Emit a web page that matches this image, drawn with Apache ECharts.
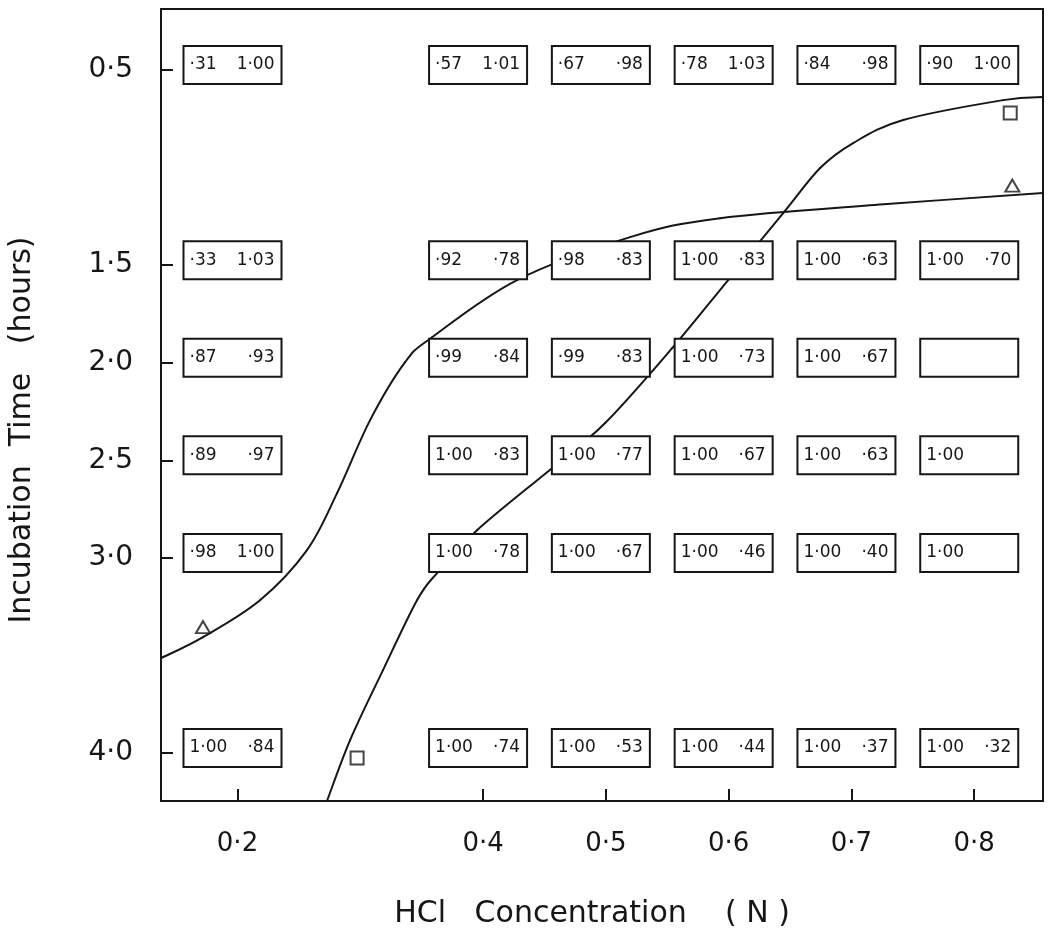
<!DOCTYPE html>
<html>
<head>
<meta charset="utf-8">
<title>HCl concentration vs incubation time</title>
<script src="https://cdn.jsdelivr.net/npm/echarts@6/dist/echarts.min.js"></script>
<style>
  html, body { margin: 0; padding: 0; background: #fff; }
  #chart { width: 1049px; height: 937px; }
</style>
</head>
<body>
<div id="chart"></div>
<script>
// HCl concentrations (N) of the table columns
const concentrations = [0.2, 0.4, 0.5, 0.6, 0.7, 0.8];
// Incubation times (hours) of the table rows
const times = [0.5, 1.5, 2.0, 2.5, 3.0, 4.0];

// First ratio of each cell, rows by time, columns by concentration
const firstValues = [
  [0.31, 0.57, 0.67, 0.78, 0.84, 0.90],
  [0.33, 0.92, 0.98, 1.00, 1.00, 1.00],
  [0.87, 0.99, 0.99, 1.00, 1.00, null],
  [0.89, 1.00, 1.00, 1.00, 1.00, 1.00],
  [0.98, 1.00, 1.00, 1.00, 1.00, 1.00],
  [1.00, 1.00, 1.00, 1.00, 1.00, 1.00]
];
// Second ratio of each cell
const secondValues = [
  [1.00, 1.01, 0.98, 1.03, 0.98, 1.00],
  [1.03, 0.78, 0.83, 0.83, 0.63, 0.70],
  [0.93, 0.84, 0.83, 0.73, 0.67, null],
  [0.97, 0.83, 0.77, 0.67, 0.63, null],
  [1.00, 0.78, 0.67, 0.46, 0.40, null],
  [0.84, 0.74, 0.53, 0.44, 0.37, 0.32]
];

// Boundary curves [concentration, hours]
const triangleCurve = [
  [0.1377, 3.514], [0.1719, 3.406], [0.2183, 3.217], [0.2566, 2.960],
  [0.2811, 2.668], [0.3080, 2.294], [0.3365, 1.997], [0.3585, 1.869],
  [0.4277, 1.576], [0.5198, 1.356], [0.5931, 1.259], [0.7291, 1.187],
  [0.8560, 1.130]
];
const squareCurve = [
  [0.2729, 4.246], [0.2917, 3.934], [0.3185, 3.575], [0.3462, 3.217],
  [0.3625, 3.078], [0.3951, 2.858], [0.4570, 2.535], [0.4994, 2.309],
  [0.5540, 1.925], [0.5996, 1.576], [0.6444, 1.233], [0.6745, 1.002],
  [0.7014, 0.874], [0.7422, 0.756], [0.8236, 0.654], [0.8560, 0.638]
];
// Curve markers
const trianglePoints = [[0.1719, 3.355], [0.8310, 1.092]];
const squarePoints = [[0.2974, 4.026], [0.8293, 0.720]];

// Axis ticks and labels
const xTicks = [0.2, 0.4, 0.5, 0.6, 0.7, 0.8];
const yTicks = [0.5, 1.5, 2.0, 2.5, 3.0, 4.0];

const FONT = "'DejaVu Sans', sans-serif";
const INK = '#161616';

function fmtAxis(v) { return v.toFixed(1).replace('.', '·'); }
function fmtRatio(v) {
  if (v == null) return '';
  const s = v.toFixed(2);
  return s.startsWith('0') ? s.slice(1).replace('.', '·') : s.replace('.', '·');
}

const cells = [];
times.forEach((t, r) => {
  concentrations.forEach((c, k) => {
    cells.push([c, t, r, k]);
  });
});

// Smooth Catmull-Rom curve through the points, drawn as cubic segments
function curveSeries(points) {
  return {
    type: 'custom',
    data: points,
    silent: true,
    clip: true,
    z: 3,
    renderItem: function (params, api) {
      if (params.dataIndex !== 0) return null;
      const p = points.map(d => api.coord(d));
      const segs = [];
      for (let i = 0; i < p.length - 1; i++) {
        const p0 = p[i - 1] || p[i], p1 = p[i], p2 = p[i + 1], p3 = p[i + 2] || p[i + 1];
        segs.push({
          type: 'bezierCurve',
          shape: {
            x1: p1[0], y1: p1[1], x2: p2[0], y2: p2[1],
            cpx1: p1[0] + (p2[0] - p0[0]) / 6, cpy1: p1[1] + (p2[1] - p0[1]) / 6,
            cpx2: p2[0] - (p3[0] - p1[0]) / 6, cpy2: p2[1] - (p3[1] - p1[1]) / 6
          },
          style: { stroke: INK, lineWidth: 2, fill: null, lineCap: 'round' }
        });
      }
      return { type: 'group', children: segs };
    }
  };
}

const chart = echarts.init(document.getElementById('chart'));
chart.setOption({
  backgroundColor: '#fff',
  animation: false,
  grid: {
    left: 161, top: 9, right: 6, bottom: 136,
    show: true, borderColor: INK, borderWidth: 2, backgroundColor: 'transparent'
  },
  graphic: [
    {
      type: 'text', x: 592, y: 914,
      style: { text: 'HCl   Concentration    ( N )', align: 'center', verticalAlign: 'middle',
        font: '30px ' + FONT, fill: INK }
    },
    {
      type: 'text', x: 22, y: 430, rotation: Math.PI / 2,
      style: { text: 'Incubation  Time   (hours)', align: 'center', verticalAlign: 'middle',
        font: '30px ' + FONT, fill: INK }
    }
  ],
  xAxis: {
    type: 'value', min: 0.1377, max: 0.856,
    axisLine: { show: false },
    splitLine: { show: false },
    axisTick: { show: true, inside: true, length: 12, customValues: xTicks,
      lineStyle: { color: INK, width: 2 } },
    axisLabel: { customValues: xTicks, formatter: fmtAxis, margin: 30,
      fontFamily: FONT, fontSize: 26, color: INK }
  },
  yAxis: {
    type: 'value', inverse: true, min: 0.187, max: 4.246,
    axisLine: { show: false },
    splitLine: { show: false },
    axisTick: { show: true, inside: true, length: 12, customValues: yTicks,
      lineStyle: { color: INK, width: 2 } },
    axisLabel: { customValues: yTicks, formatter: fmtAxis, margin: 28,
      fontFamily: FONT, fontSize: 28, color: INK }
  },
  series: [
    {
      type: 'custom',
      name: 'cells',
      data: cells,
      silent: true,
      z: 5,
      renderItem: function (params, api) {
        const c = api.value(0), t = api.value(1);
        const r = api.value(2), k = api.value(3);
        const p = api.coord([c, t]);
        const w = 98, h = 38;
        const x0 = p[0] - 5 - w / 2, y0 = p[1] - 5 - h / 2;
        const children = [{
          type: 'rect',
          shape: { x: x0, y: y0, width: w, height: h },
          style: { fill: '#fff', stroke: INK, lineWidth: 2 }
        }];
        const a = firstValues[r][k], b = secondValues[r][k];
        if (a != null) {
          children.push({
            type: 'text',
            style: { text: fmtRatio(a), x: x0 + 6, y: y0 + h / 2,
              align: 'left', verticalAlign: 'middle',
              font: '17px ' + FONT, fill: INK }
          });
        }
        if (b != null) {
          children.push({
            type: 'text',
            style: { text: fmtRatio(b), x: x0 + w - 7, y: y0 + h / 2,
              align: 'right', verticalAlign: 'middle',
              font: '17px ' + FONT, fill: INK }
          });
        }
        return { type: 'group', children: children };
      }
    },
    curveSeries(triangleCurve),
    curveSeries(squareCurve),
    {
      type: 'scatter', data: trianglePoints, symbol: 'emptyTriangle', symbolSize: [14, 12],
      itemStyle: { color: INK, borderColor: INK, borderWidth: 1.5 }, z: 4
    },
    {
      type: 'scatter', data: squarePoints, symbol: 'emptyRect', symbolSize: 13,
      itemStyle: { color: INK, borderColor: INK, borderWidth: 2 }, z: 4
    }
  ]
});
</script>
</body>
</html>
